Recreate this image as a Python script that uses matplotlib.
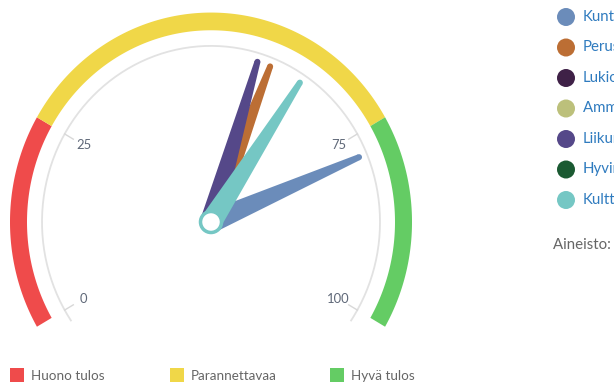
import numpy as np
import matplotlib.pyplot as plt
from matplotlib.patches import Polygon, Circle, Rectangle

# gauge series (None = no value for that series)
series_names = ['Kuntaliitos', 'Perusopetus', 'Lukiokoulutus', 'Ammatillinen koulutus',
                'Liikuntapalvelut', 'Hyvinvointi', 'Kulttuuripalvelut']
series_values = [78, 59, None, None, 57, None, 64]
series_colors = ['#6b8cba', '#bc6e34', '#3f2147', '#bcc07b', '#554889', '#1b5a32', '#75c7c4']

# result bands
band_edges = [0, 25, 75, 100]
band_labels = ['Huono tulos', 'Parannettavaa', 'Hyvä tulos']
band_colors = ['#ef4b4b', '#f0d748', '#64cc64']

tick_values = [0, 25, 75, 100]

plt.rcParams['font.family'] = ['Lato', 'DejaVu Sans']

W, H = 614, 385
fig = plt.figure(figsize=(W / 100, H / 100), dpi=100)
ax = fig.add_axes([0, 0, 1, 1])
ax.set_xlim(0, W)
ax.set_ylim(H, 0)
ax.axis('off')

cx, cy = 211, 222
ry = 1.042          # vertical stretch of the pane
r_axis = 169
r_band = (184, 201)


def angle(v):
    return np.radians(-120 + 240 * v / 100)


def pt(a, r):
    return cx + r * np.sin(a), cy - r * ry * np.cos(a)


def px(p):
    return p * 72 / 100


# coloured bands
for v0, v1, col in zip(band_edges[:-1], band_edges[1:], band_colors):
    a = np.linspace(angle(v0), angle(v1), 120)
    ox, oy = pt(a, r_band[1])
    ix, iy = pt(a[::-1], r_band[0])
    ax.add_patch(Polygon(np.column_stack([np.r_[ox, ix], np.r_[oy, iy]]),
                         closed=True, fc=col, ec='none', zorder=2))

# axis line, ticks and labels
a = np.linspace(np.radians(-124), np.radians(124), 300)
ax.plot(*pt(a, r_axis), color='#e2e2e2', lw=1.3, zorder=1)
for t in tick_values:
    at = angle(t)
    x0, y0 = pt(at, r_axis)
    x1, y1 = pt(at, r_axis - 10)
    ax.plot([x0, x1], [y0, y1], color='#d8d8d8', lw=1.0, zorder=1)
    lx, ly = pt(at, r_axis * 0.87)
    ax.text(lx, ly, str(t), ha='center', va='center', fontsize=px(13),
            color='#5f6878', zorder=3)

# needles
r_needle = r_axis * 0.95
w_base, w_tip = 22, 6
for val, col in zip(series_values, series_colors):
    if val is None:
        continue
    a = angle(val)
    tx, ty = pt(a, r_needle)
    d = np.array([tx - cx, ty - cy])
    d /= np.hypot(*d)
    n = np.array([-d[1], d[0]])
    pts = [(cx + n[0] * w_base / 2, cy + n[1] * w_base / 2),
           (tx + n[0] * w_tip / 2, ty + n[1] * w_tip / 2),
           (tx - n[0] * w_tip / 2, ty - n[1] * w_tip / 2),
           (cx - n[0] * w_base / 2, cy - n[1] * w_base / 2)]
    ax.add_patch(Polygon(pts, closed=True, fc=col, ec='none', zorder=4))
    ax.add_patch(Circle((tx, ty), w_tip / 2, fc=col, ec='none', zorder=4))

# pivot
ax.add_patch(Circle((cx, cy), 10.5, fc='white', ec='#75c7c4', lw=px(3.5), zorder=5))

# series legend (right)
for i, (name, col) in enumerate(zip(series_names, series_colors)):
    y = 17 + i * 30.5
    ax.add_patch(Circle((566, y), 9, fc=col, ec='none', zorder=3))
    ax.text(583, y, name, ha='left', va='center', fontsize=px(15),
            color='#2f7bbf', zorder=3)
ax.text(553, 245, 'Aineisto: kuntakysely', ha='left', va='center',
        fontsize=px(15), color='#666666')

# band legend (bottom)
for x, lab, col in zip([10, 170, 330], band_labels, band_colors):
    ax.add_patch(Rectangle((x, 368), 14, 14, fc=col, ec='none'))
    ax.text(x + 21, 375.5, lab, ha='left', va='center', fontsize=px(13.5),
            color='#666666')

fig.savefig('out.png', dpi=100)
